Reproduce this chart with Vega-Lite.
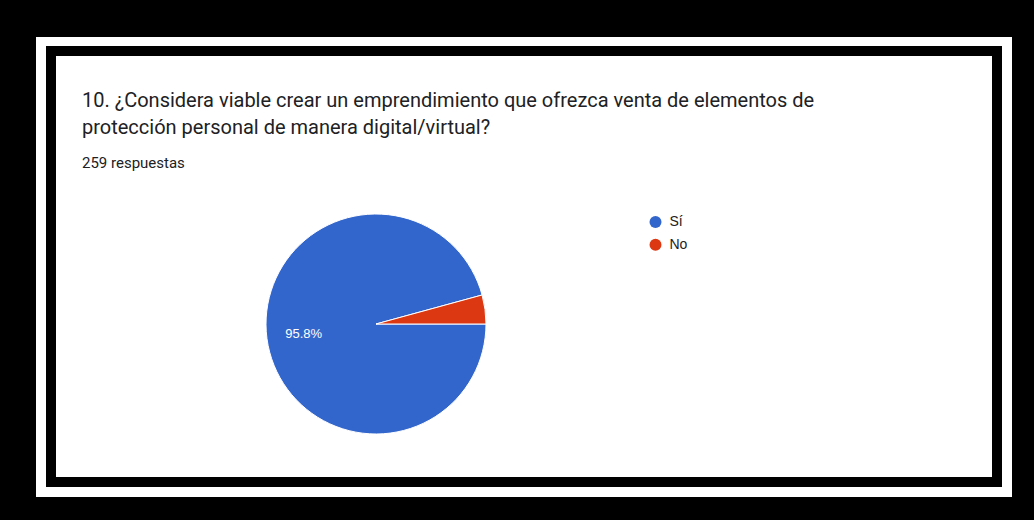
{
  "$schema": "https://vega.github.io/schema/vega-lite/v6.json",
  "background": "black",
  "padding": {"left": 36, "top": 37, "right": 22, "bottom": 23},
  "config": {"view": {"stroke": null}},
  "spacing": 0,
  "center": true,
  "resolve": {"scale": {"color": "independent", "theta": "independent"}, "legend": {"color": "independent"}},
  "vconcat": [
    {
      "width": 976, "height": 9,
      "view": {"fill": "white"},
      "data": {"values": []},
      "mark": {"type": "text", "text": ""}
    },
    {
      "spacing": 10,
      "center": true,
      "resolve": {"scale": {"color": "independent", "theta": "independent"}, "legend": {"color": "independent"}},
      "hconcat": [
        {
          "width": 10, "height": 441,
          "view": {"fill": "white"},
          "data": {"values": []},
          "mark": {"type": "text", "text": ""}
        },
        {
          "spacing": 0,
          "resolve": {"scale": {"color": "independent", "theta": "independent"}, "legend": {"color": "independent"}},
          "vconcat": [
            {
              "width": 936, "height": 144,
              "view": {"fill": "white"},
              "title": {
                "text": ["10. ¿Considera viable crear un emprendimiento que ofrezca venta de elementos de", "protección personal de manera digital/virtual?"],
                "subtitle": "259 respuestas",
                "anchor": "start",
                "frame": "group",
                "orient": "top",
                "offset": -115,
                "dx": 26,
                "font": "Roboto",
                "fontSize": 20,
                "fontWeight": "normal",
                "color": "#202124",
                "lineHeight": 27,
                "subtitleFont": "Roboto",
                "subtitleFontSize": 15,
                "subtitleColor": "#202124",
                "subtitlePadding": 18
              },
              "data": {"values": []},
              "mark": {"type": "text", "text": ""}
            },
            {
              "spacing": 0,
              "bounds": "flush",
              "resolve": {"scale": {"color": "independent", "theta": "independent"}, "legend": {"color": "independent"}},
              "hconcat": [
                {
                  "width": 210, "height": 248,
                  "view": {"fill": "white"},
                  "data": {"values": []},
                  "mark": {"type": "text", "text": ""}
                },
                {
                  "width": 220, "height": 248,
                  "view": {"fill": "white"},
                  "data": {"values": [
                    {"respuesta": "Sí", "cantidad": 248, "porcentaje": 0.958},
                    {"respuesta": "No", "cantidad": 11, "porcentaje": 0.042}
                  ]},
                  "encoding": {
                    "theta": {"field": "cantidad", "type": "quantitative", "stack": true, "scale": {"range": [1.5707963, 7.8539816]}},
                    "order": {"field": "respuesta", "sort": "descending"},
                    "color": {
                      "field": "respuesta", "type": "nominal",
                      "scale": {"domain": ["Sí", "No"], "range": ["#3366cc", "#dc3912"]},
                      "legend": null
                    }
                  },
                  "layer": [
                    {"mark": {"type": "arc", "outerRadius": 110, "stroke": "white", "strokeWidth": 1}},
                    {
                      "mark": {"type": "text", "radius": 73, "fontSize": 13, "font": "Liberation Sans"},
                      "encoding": {
                        "color": {"value": "white"},
                        "detail": {"field": "respuesta", "type": "nominal"},
                        "text": {"condition": {"test": "datum.porcentaje > 0.1", "field": "porcentaje", "type": "quantitative", "format": ".1%"}, "value": ""}
                      }
                    }
                  ]
                },
                {
                  "width": 506, "height": 248,
                  "view": {"fill": "white"},
                  "data": {"values": [
                    {"respuesta": "Sí", "cantidad": 248},
                    {"respuesta": "No", "cantidad": 11}
                  ]},
                  "mark": {"type": "circle", "size": 0},
                  "encoding": {
                    "color": {
                      "field": "respuesta", "type": "nominal",
                      "scale": {"domain": ["Sí", "No"], "range": ["#3366cc", "#dc3912"]},
                      "legend": {
                        "orient": "top-left",
                        "offset": 15,
                        "symbolOffset": 147.5,
                        "title": null,
                        "symbolType": "circle",
                        "symbolSize": 143,
                        "symbolOpacity": 1,
                        "symbolStrokeWidth": 0,
                        "labelFont": "Liberation Sans",
                        "labelFontSize": 14,
                        "labelColor": "#222222",
                        "labelOffset": 7,
                        "rowPadding": 8.8,
                        "padding": 0
                      }
                    }
                  }
                }
              ]
            },
            {
              "width": 936, "height": 29,
              "view": {"fill": "white"},
              "data": {"values": []},
              "mark": {"type": "text", "text": ""}
            }
          ]
        },
        {
          "width": 10, "height": 441,
          "view": {"fill": "white"},
          "data": {"values": []},
          "mark": {"type": "text", "text": ""}
        }
      ]
    },
    {
      "width": 976, "height": 10,
      "view": {"fill": "white"},
      "data": {"values": []},
      "mark": {"type": "text", "text": ""}
    }
  ]
}
